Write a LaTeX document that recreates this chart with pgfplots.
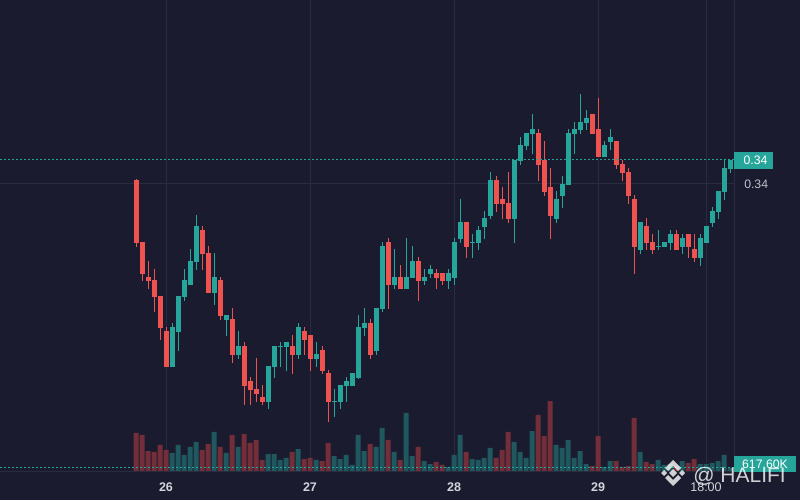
\documentclass[border=0pt]{standalone}
\usepackage{pgfplots}
\pgfplotsset{compat=1.18}
\usepackage{pgfplotstable}
\usepackage{fontspec}
\setmainfont{Liberation Sans}
\definecolor{bg}{RGB}{26,27,46}
\definecolor{gridc}{RGB}{42,43,60}
\definecolor{upc}{RGB}{38,166,154}
\definecolor{dnc}{RGB}{239,83,80}
\definecolor{upv}{RGB}{31,88,94}
\definecolor{dnv}{RGB}{116,46,58}
\definecolor{txt}{RGB}{209,212,220}
\definecolor{lbl}{RGB}{190,193,202}

\pgfplotstableread{
i open high low close vol
0 0.340100 0.340125 0.338425 0.338525 6022
1 0.338550 0.338550 0.337575 0.337750 5713
2 0.337675 0.338075 0.337375 0.337575 3242
3 0.337600 0.337875 0.336800 0.337175 3088
4 0.337200 0.337200 0.336100 0.336400 4169
5 0.336325 0.336425 0.335425 0.335425 3397
6 0.335425 0.336525 0.335425 0.336425 2934
7 0.336300 0.337200 0.335825 0.337200 4169
8 0.337175 0.337875 0.337075 0.337600 2625
9 0.337475 0.338375 0.337475 0.338075 3860
10 0.338050 0.339225 0.337850 0.338950 4632
11 0.338850 0.338950 0.337850 0.338250 3397
12 0.338275 0.338450 0.337275 0.337275 4323
13 0.337275 0.338275 0.336975 0.337675 6176
14 0.337600 0.337675 0.336600 0.336700 3860
15 0.336600 0.336725 0.336200 0.336725 2934
16 0.336625 0.336900 0.335525 0.335725 5713
17 0.335725 0.336325 0.335625 0.335950 3860
18 0.335950 0.336050 0.334475 0.334950 5867
19 0.335075 0.335175 0.334475 0.334850 4478
20 0.334875 0.335650 0.334550 0.334750 4941
21 0.334675 0.334975 0.334475 0.334550 1853
22 0.334550 0.335450 0.334375 0.335450 2779
23 0.335425 0.335950 0.335150 0.335950 2779
24 0.335925 0.336050 0.335425 0.335950 1853
25 0.335925 0.336050 0.335325 0.336050 2162
26 0.335950 0.336225 0.335250 0.335725 3088
27 0.335725 0.336525 0.335625 0.336425 3551
28 0.336325 0.336425 0.335725 0.336100 2007
29 0.336225 0.336225 0.335325 0.335625 2162
30 0.335625 0.336050 0.335425 0.335750 1853
31 0.335850 0.335950 0.335250 0.335325 1698
32 0.335275 0.335350 0.334050 0.334550 4478
33 0.334550 0.334875 0.334175 0.334575 2470
34 0.334550 0.334975 0.334375 0.334975 2007
35 0.334950 0.335175 0.334550 0.335075 2625
36 0.334950 0.335275 0.334950 0.335275 1081
37 0.335150 0.336725 0.335125 0.336425 5713
38 0.336400 0.336900 0.336200 0.336525 3242
39 0.336525 0.336625 0.335625 0.335725 4323
40 0.335825 0.336900 0.335725 0.336900 3860
41 0.336875 0.338550 0.336800 0.338450 6794
42 0.338550 0.338650 0.336875 0.337475 4941
43 0.337475 0.338375 0.337375 0.337675 3088
44 0.337675 0.337975 0.337375 0.337375 1853
45 0.337375 0.338650 0.337375 0.337675 9110
46 0.337650 0.338450 0.337650 0.338075 2470
47 0.338075 0.338175 0.337075 0.337575 3860
48 0.337575 0.337875 0.337475 0.337675 1698
49 0.337750 0.337975 0.337650 0.337875 1235
50 0.337775 0.337875 0.337375 0.337650 1544
51 0.337775 0.337775 0.337475 0.337575 1081
52 0.337575 0.337875 0.337375 0.337775 772
53 0.337650 0.338650 0.337475 0.338550 2625
54 0.338625 0.339625 0.338525 0.339050 5713
55 0.339050 0.339050 0.338150 0.338425 3088
56 0.338525 0.338750 0.338150 0.338550 2007
57 0.338525 0.338950 0.338350 0.338850 1853
58 0.338925 0.339325 0.338625 0.339150 2162
59 0.339200 0.340300 0.339125 0.340100 3706
60 0.340100 0.340200 0.339300 0.339500 2162
61 0.339625 0.339925 0.339125 0.339500 3397
62 0.339525 0.340300 0.339025 0.339125 6176
63 0.339125 0.340600 0.338525 0.340600 4632
64 0.340575 0.341175 0.340475 0.340975 3088
65 0.340950 0.341275 0.340850 0.341275 2162
66 0.341250 0.341750 0.340750 0.341375 6330
67 0.341275 0.341375 0.340075 0.340475 8801
68 0.340600 0.341075 0.339700 0.339800 5558
69 0.339925 0.340400 0.338625 0.339200 10962
70 0.339125 0.339825 0.339025 0.339625 4169
71 0.339700 0.340200 0.339400 0.340000 3706
72 0.339975 0.341375 0.339975 0.341275 4941
73 0.341250 0.341550 0.340750 0.341375 2162
74 0.341350 0.342250 0.341250 0.341550 3242
75 0.341525 0.341850 0.341350 0.341650 1235
76 0.341750 0.341750 0.341250 0.341250 926
77 0.341375 0.342150 0.340675 0.340675 5558
78 0.340675 0.341075 0.340675 0.340975 772
79 0.341050 0.341375 0.340850 0.341175 1698
80 0.341075 0.341075 0.340375 0.340475 1698
81 0.340500 0.340600 0.340075 0.340275 772
82 0.340300 0.340400 0.339500 0.339700 926
83 0.339625 0.339725 0.337750 0.338425 8338
84 0.338350 0.339050 0.338250 0.339050 3088
85 0.338950 0.339150 0.338350 0.338525 1544
86 0.338550 0.338750 0.338250 0.338350 1235
87 0.338425 0.338850 0.338350 0.338450 1853
88 0.338425 0.338550 0.338425 0.338550 1081
89 0.338525 0.338850 0.338350 0.338750 1235
90 0.338750 0.338850 0.338350 0.338350 926
91 0.338425 0.338750 0.338250 0.338650 1698
92 0.338750 0.338750 0.338150 0.338425 1390
93 0.338375 0.338750 0.338050 0.338150 2007
94 0.338150 0.338750 0.337950 0.338650 1235
95 0.338525 0.338950 0.338525 0.338950 1235
96 0.339025 0.339425 0.338925 0.339325 1390
97 0.339300 0.339825 0.339125 0.339825 1698
98 0.339800 0.340600 0.339600 0.340400 2625
99 0.340375 0.340600 0.340275 0.340600 617.6
}\candles

\begin{document}
\begin{tikzpicture}
\fill[bg] (0pt,0pt) rectangle (600pt,375pt);
% price axis: grid, labels, candles
\begin{axis}[
  at={(0pt,21pt)}, anchor=south west, scale only axis,
  width=550.5pt, height=354pt,
  xmin=-22.6667, xmax=99.6667, ymin=0.3328, ymax=0.3446,
  axis line style={draw=none}, major tick length=0pt,
  xtick={5,29,53,77,95},
  xticklabels={\textbf{26},\textbf{27},\textbf{28},\textbf{29},18:00},
  ytick={0.34}, yticklabels={0.34}, yticklabel pos=right,
  grid=major, grid style={gridc, line width=0.75pt},
  xticklabel style={anchor=base, inner sep=0pt, yshift=-14.25pt, text=txt, font=\fontsize{9.4}{11}\selectfont},
  yticklabel style={anchor=west, inner sep=0pt, xshift=7.5pt, text=lbl, font=\fontsize{9.2}{11}\selectfont},
]
% wicks
\addplot[draw=none, mark=none, forget plot,
  x filter/.expression={\thisrow{close}>=\thisrow{open} ? x : nan},
  error bars/.cd, y dir=plus, y explicit, error mark=none,
  error bar style={draw=upc, line width=0.75pt}]
  table[x=i, y=low, y error expr=\thisrow{high}-\thisrow{low}] {\candles};
\addplot[draw=none, mark=none, forget plot,
  x filter/.expression={\thisrow{close}<\thisrow{open} ? x : nan},
  error bars/.cd, y dir=plus, y explicit, error mark=none,
  error bar style={draw=dnc, line width=0.75pt}]
  table[x=i, y=low, y error expr=\thisrow{high}-\thisrow{low}] {\candles};
% bodies
\addplot[draw=none, mark=none, forget plot,
  x filter/.expression={\thisrow{close}>=\thisrow{open} ? x : nan},
  error bars/.cd, y dir=plus, y explicit, error mark=none,
  error bar style={draw=upc, line width=3.75pt}]
  table[x=i, y=open, y error expr=\thisrow{close}-\thisrow{open}] {\candles};
\addplot[draw=none, mark=none, forget plot,
  x filter/.expression={\thisrow{close}<\thisrow{open} ? x : nan},
  error bars/.cd, y dir=plus, y explicit, error mark=none,
  error bar style={draw=dnc, line width=3.75pt}]
  table[x=i, y=close, y error expr=\thisrow{open}-\thisrow{close}] {\candles};
\draw[upc, line width=0.75pt, dash pattern=on 1.5pt off 1.5pt]
  (axis cs:-22.6667,0.3406) -- (axis cs:99.6667,0.3406);
\end{axis}
% volume axis
\begin{axis}[
  at={(0pt,21pt)}, anchor=south west, scale only axis,
  width=550.5pt, height=354pt, hide axis,
  xmin=-22.6667, xmax=99.6667, ymin=0, ymax=72876.8,
]
\addplot[ybar, bar width=3.75pt, bar shift=0pt, fill=upv, draw=none, forget plot,
  x filter/.expression={\thisrow{close}>=\thisrow{open} ? x : nan}]
  table[x=i, y=vol] {\candles};
\addplot[ybar, bar width=3.75pt, bar shift=0pt, fill=dnv, draw=none, forget plot,
  x filter/.expression={\thisrow{close}<\thisrow{open} ? x : nan}]
  table[x=i, y=vol] {\candles};
\draw[upc, line width=0.75pt, dash pattern=on 1.5pt off 1.5pt]
  (axis cs:-22.6667,617.6) -- (axis cs:99.6667,617.6);
\end{axis}
% borders
\draw[gridc, line width=0.75pt] (550.5pt,21pt) -- (550.5pt,375pt);
\draw[gridc, line width=0.75pt] (0pt,21pt) -- (550.5pt,21pt);
% price tag
\fill[upc] (550.5pt,248.25pt) rectangle (579.75pt,261pt);
\node[white, font=\fontsize{9.2}{11}\selectfont, inner sep=0pt] at (566.6pt,254.6pt) {0.34};
% volume tag
\fill[upc] (550.5pt,21pt) rectangle (597pt,33pt);
\node[white, font=\fontsize{9.2}{11}\selectfont, inner sep=0pt] at (573.75pt,27pt) {617.60K};
% watermark
\begin{scope}[shift={(504.75pt,20.25pt)}, x=0.75pt, y=-0.75pt, white, opacity=0.8]
  \fill (0,-4) -- (4,0) -- (0,4) -- (-4,0) -- cycle;
  \fill (-9,-3) -- (-6,0) -- (-9,3) -- (-12,0) -- cycle;
  \fill (9,-3) -- (12,0) -- (9,3) -- (6,0) -- cycle;
  \fill (0,-13) -- (8,-5) -- (5,-2) -- (0,-7) -- (-5,-2) -- (-8,-5) -- cycle;
  \fill (0,13) -- (8,5) -- (5,2) -- (0,7) -- (-5,2) -- (-8,5) -- cycle;
\end{scope}
\node[anchor=base west, inner sep=0pt, text=white, opacity=0.8, font=\fontsize{15.75}{17}\selectfont] at (519.75pt,12.75pt) {@ HALIFI};
\pgfresetboundingbox
\useasboundingbox (0pt,0pt) rectangle (600pt,375pt);
\end{tikzpicture}
\end{document}
